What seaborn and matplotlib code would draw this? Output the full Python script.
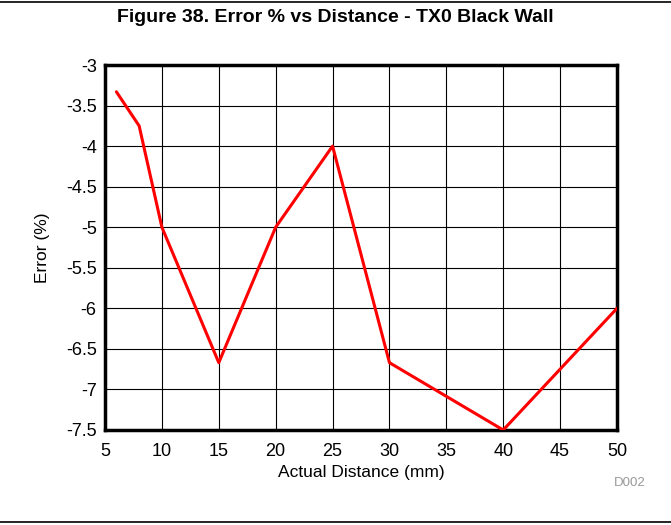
import matplotlib
matplotlib.use("Agg")
import matplotlib.pyplot as plt
import seaborn as sns
import pandas as pd

distance_mm = [6, 8, 10, 15, 20, 25, 30, 40, 50]
error_pct = [-3.33, -3.75, -5.0, -6.67, -5.0, -4.0, -6.67, -7.5, -6.0]
x_ticks = [5, 10, 15, 20, 25, 30, 35, 40, 45, 50]
y_ticks = [-3, -3.5, -4, -4.5, -5, -5.5, -6, -6.5, -7, -7.5]

sns.set_style("white")
plt.rcParams["font.family"] = ["Liberation Sans", "DejaVu Sans"]
plt.rcParams["text.color"] = "black"
plt.rcParams["axes.labelcolor"] = "black"

df = pd.DataFrame({"Distance": distance_mm, "Error": error_pct})

W, H = 671, 525
fig = plt.figure(figsize=(W / 100, H / 100), dpi=100)
ax = fig.add_axes([105 / W, 1 - 430 / H, 512 / W, 365 / H])

sns.lineplot(data=df, x="Distance", y="Error", ax=ax, color="#ff0000",
             linewidth=2.2, zorder=3)

ax.set_xlim(5, 50)
ax.set_ylim(-7.5, -3)
ax.set_xticks(x_ticks)
ax.set_yticks(y_ticks)
ax.set_xticklabels([str(v) for v in x_ticks])
ax.set_yticklabels([f"{v:g}" for v in y_ticks])
ax.tick_params(axis="both", labelsize=13, length=0, colors="black")
ax.tick_params(axis="x", pad=9)
ax.tick_params(axis="y", pad=6)
ax.grid(True, color="black", linewidth=0.8)
ax.set_axisbelow(True)
for s in ax.spines.values():
    s.set_linewidth(2.5)
    s.set_color("black")
    s.set_visible(True)

ax.set_xlabel("Actual Distance (mm)", fontsize=12.5, va="center")
ax.set_ylabel("Error (%)", fontsize=12.5, va="center")
ax.xaxis.set_label_coords(0.5, (430 - 473) / 365)
ax.yaxis.set_label_coords((42 - 105) / 512, 0.5)

fig.text(0.5, 1 - 18 / H, "Figure 38. Error % vs Distance - TX0 Black Wall",
         ha="center", va="center", fontsize=14, fontweight="bold")
fig.text(630 / W, 1 - 483 / H, "D002", ha="center", va="center",
         fontsize=9.5, color="#999999")

fig.add_artist(plt.Line2D([0, 1], [1 - 1.5 / H, 1 - 1.5 / H],
                          color="black", linewidth=1.2))
fig.add_artist(plt.Line2D([0, 1], [1 - 522 / H, 1 - 522 / H],
                          color="black", linewidth=1.2))

fig.savefig("out.png", dpi=100)
